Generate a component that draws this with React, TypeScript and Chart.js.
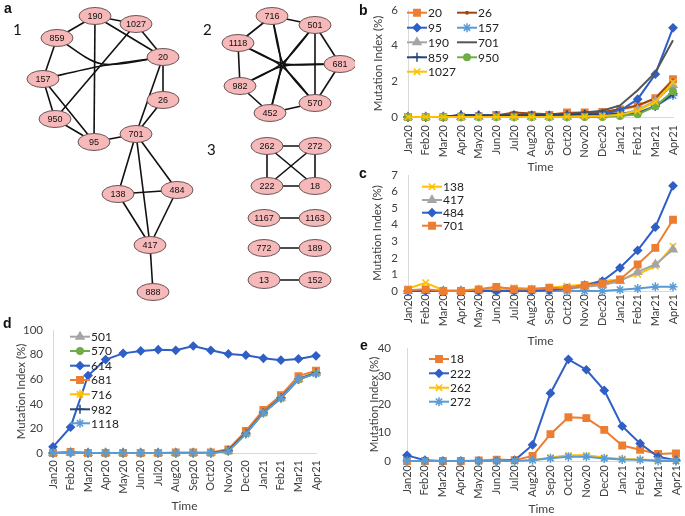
import React, { useEffect, useRef } from 'react';
import { Chart, registerables } from 'chart.js';
import { drawPoint } from 'chart.js/helpers';
Chart.register(...registerables);

const FONT = 'Lato, "Open Sans", sans-serif';
const TXT = '#404040';

const months = ['Jan20', 'Feb20', 'Mar20', 'Apr20', 'May20', 'Jun20', 'Jul20', 'Aug20', 'Sep20', 'Oct20', 'Nov20', 'Dec20', 'Jan21', 'Feb21', 'Mar21', 'Apr21'];

// ---- panel b ----
const bTicks = [0, 2, 4, 6];
const b20 = [0, 0, 0, 0.02, 0.05, 0.12, 0.1, 0.12, 0.12, 0.25, 0.25, 0.28, 0.42, 0.6, 1.05, 2.12];
const b26 = [0, 0, 0, 0.03, 0.05, 0.08, 0.25, 0.2, 0.15, 0.2, 0.25, 0.25, 0.45, 0.65, 1.05, 2.05];
const b95 = [0, 0, 0.02, 0.08, 0.1, 0.08, 0.05, 0.05, 0.05, 0.1, 0.15, 0.2, 0.35, 1.0, 2.4, 5.0];
const b157 = [0, 0, 0, 0, 0, 0, 0, 0, 0, 0, 0.05, 0.05, 0.08, 0.25, 0.6, 1.2];
const b190 = [0, 0, 0, 0, 0, 0, 0, 0, 0, 0.02, 0.05, 0.08, 0.15, 0.4, 0.9, 1.8];
const b701 = [0, 0, 0, 0.05, 0.05, 0.05, 0.1, 0.1, 0.15, 0.15, 0.25, 0.35, 0.65, 1.5, 2.5, 4.3];
const b859 = [0, 0, 0, 0.12, 0.1, 0.08, 0.1, 0.1, 0.1, 0.12, 0.15, 0.12, 0.2, 0.2, 0.6, 1.3];
const b950 = [0, 0, 0, 0, 0, 0, 0, 0, 0, 0, 0, 0, 0.05, 0.15, 0.6, 1.45];
const b1027 = [0, 0, 0, 0, 0, 0, 0, 0, 0, 0.02, 0.03, 0.05, 0.12, 0.35, 0.85, 1.95];

// ---- panel c ----
const cTicks = [0, 1, 2, 3, 4, 5, 6, 7];
const c138 = [0.15, 0.5, 0.05, 0.05, 0.1, 0.15, 0.2, 0.15, 0.2, 0.3, 0.4, 0.6, 0.7, 1.0, 1.5, 2.7];
const c417 = [0, 0, 0, 0, 0.05, 0.05, 0.05, 0.05, 0.1, 0.1, 0.25, 0.35, 0.6, 1.15, 1.6, 2.5];
const c484 = [0, 0, 0, 0, 0, 0, 0, 0, 0.05, 0.15, 0.35, 0.6, 1.4, 2.45, 3.85, 6.35];
const c701 = [0.05, 0.1, 0, 0, 0.1, 0.25, 0.1, 0.1, 0.2, 0.15, 0.35, 0.45, 0.7, 1.6, 2.6, 4.3];
const cOther = [0, 0.02, 0, 0, 0, 0, 0, 0, 0, 0, 0, 0, 0.08, 0.15, 0.25, 0.25];

// ---- panel d ----
const dTicks = [0, 20, 40, 60, 80, 100];
const d501 = [0, 0.5, 0, 0, 0, 0, 0, 0, 0, 0.2, 1.5, 16, 33, 45, 60, 65];
const d570 = [0, 0.5, 0, 0, 0, 0, 0, 0, 0, 0.2, 1.8, 16, 33, 45, 60, 65.5];
const d614 = [5, 21, 63, 76, 81, 83, 84, 83.5, 87, 83.5, 80.5, 79.5, 77, 75.5, 76.5, 79];
const d681 = [0, 0.8, 0, 0, 0, 0, 0, 0.5, 0.5, 0.5, 3, 18, 35, 47, 62.5, 67];
const d716 = [0, 0.3, 0, 0, 0, 0, 0, 0, 0, 0, 1.5, 15.5, 32.5, 44.5, 59.5, 65];
const d982 = [0, 0.3, 0, 0, 0, 0, 0, 0, 0, 0, 2, 16, 33, 45, 60, 65];
const d1118 = [0, 0.3, 0, 0, 0, 0, 0, 0, 0, 0, 1.5, 15.5, 32.5, 44.5, 60, 64.5];

// ---- panel e ----
const eTicks = [0, 10, 20, 30, 40];
const e18 = [0, 0, 0, 0, 0.2, 0.5, 0.3, 1.8, 9.5, 15.5, 15.2, 11, 5.5, 4, 2.5, 2.7];
const e222 = [2, 0.3, 0, 0, 0, 0, 0.3, 5.7, 24, 36, 32.3, 25, 12.3, 6.2, 1.5, 0.3];
const e262 = [0, 0, 0, 0, 0, 0, 0, 0.3, 1.2, 2, 2, 1.2, 0.7, 0.5, 0.3, 0.2];
const e272 = [0, 0, 0, 0, 0, 0, 0, 0.3, 1, 1.5, 1.5, 0.9, 0.5, 0.4, 0, 0];

// ---- network (panel a) ----
const nodeIds = ['190', '1027', '859', '20', '157', '26', '950', '701', '95', '138', '484', '417', '888',
  '716', '501', '1118', '681', '982', '570', '452',
  '262', '272', '222', '18', '1167', '1163', '772', '189', '13', '152'];
const nodeX = [95, 136, 57, 163, 43, 163, 55, 136, 94, 118, 177, 150, 153,
  272, 315, 238, 340, 240, 315, 270,
  267, 315, 267, 315, 264, 315, 264, 315, 264, 315];
const nodeY = [16, 24, 38, 57, 79, 100, 119, 134, 142, 194, 190, 245, 292,
  16, 25, 43, 64, 86, 103, 113,
  146, 146, 186, 186, 218, 218, 248, 248, 280, 280];
const hubX = [0, 100, 282];
const hubY = [0, 66, 65];
// [from, to, hub index (0 = straight)]
const edges: [string, string, number][] = [
  ['190', '1027', 0], ['190', '859', 0], ['190', '20', 0], ['190', '95', 0], ['1027', '20', 0],
  ['1027', '950', 1], ['859', '157', 0], ['859', '20', 1], ['157', '20', 1], ['157', '950', 0],
  ['157', '95', 0], ['950', '95', 0], ['95', '701', 0], ['20', '701', 0], ['20', '26', 0],
  ['26', '701', 0], ['701', '138', 0], ['701', '484', 0], ['701', '417', 0], ['138', '484', 0],
  ['138', '417', 0], ['484', '417', 0], ['417', '888', 0],
  ['716', '501', 0], ['716', '1118', 0], ['1118', '982', 0], ['982', '452', 0], ['452', '570', 0],
  ['570', '681', 0], ['501', '681', 0], ['1118', '681', 2], ['1118', '570', 2], ['982', '501', 2],
  ['982', '681', 2], ['716', '570', 2], ['716', '452', 2], ['501', '452', 2], ['501', '570', 0],
  ['262', '272', 0], ['262', '222', 0], ['262', '18', 0], ['272', '222', 0], ['272', '18', 0],
  ['222', '18', 0], ['1167', '1163', 0], ['772', '189', 0], ['13', '152', 0],
];

// colours
const ORANGE = '#ED7D31', BROWN = '#9E480E', BLUE = '#2F5FC6', LBLUE = '#5B9BD5', GRAY = '#A5A5A5',
  DGRAY = '#555555', NAVY = '#264478', GREEN = '#70AD47', YELLOW = '#FFC000';

function series(label: string, data: number[], color: string, style: string, radius: number, idx: number) {
  return {
    label, data,
    borderColor: color, backgroundColor: color,
    borderWidth: 2,
    pointStyle: style, pointRadius: radius, pointHoverRadius: radius,
    pointBackgroundColor: color, pointBorderColor: color, pointBorderWidth: 1.5,
    tension: 0, clip: false as any, order: -idx,
  };
}

const legendPlugin = {
  id: 'xlLegend',
  afterDraw(chart: any, _a: any, opts: any) {
    const items = opts.items || [];
    const ctx = chart.ctx;
    ctx.save();
    items.forEach((it: any) => {
      const ds = chart.data.datasets[it.ds];
      const x = it.x - opts.L, y = it.y - opts.T;
      ctx.strokeStyle = ds.borderColor; ctx.lineWidth = 2;
      ctx.beginPath(); ctx.moveTo(x, y); ctx.lineTo(x + 20, y); ctx.stroke();
      if (ds.pointRadius > 0) {
        ctx.fillStyle = ds.pointBackgroundColor; ctx.strokeStyle = ds.pointBorderColor; ctx.lineWidth = ds.pointBorderWidth;
        drawPoint(ctx, { pointStyle: ds.pointStyle, radius: ds.pointRadius, borderWidth: ds.pointBorderWidth, rotation: 0 } as any, x + 10, y);
      }
      ctx.fillStyle = '#222'; ctx.font = `12px ${FONT}`; ctx.textBaseline = 'middle'; ctx.textAlign = 'left';
      ctx.fillText(ds.label, x + 21, y + 0.5);
    });
    ctx.restore();
  },
};

type Geom = { L: number; T: number; W: number; H: number; cl: number; cr: number; ct: number; cb: number; yTitleX: number; xTitleY: number; yPad: number; xPad: number };

function lineConfig(g: Geom, datasets: any[], yTicks: number[], legendItems: any[]) {
  const lh = 11.5 * 1.2;
  return {
    type: 'line',
    data: { labels: months, datasets },
    plugins: [legendPlugin],
    options: {
      responsive: false, animation: false,
      layout: { padding: { top: g.ct - g.T, right: g.L + g.W - g.cr, left: 0, bottom: 0 }, autoPadding: false },
      plugins: { legend: { display: false }, tooltip: { enabled: false }, xlLegend: { items: legendItems, L: g.L, T: g.T } },
      scales: {
        x: {
          type: 'category', offset: false,
          grid: { display: false, drawTicks: false },
          border: { display: true, color: '#D9D9D9', width: 1 },
          ticks: { autoSkip: false, minRotation: 90, maxRotation: 90, padding: g.xPad, font: { family: FONT, size: 11 }, color: TXT },
          title: { display: true, text: 'Time', color: TXT, font: { family: FONT, size: 12 }, padding: { top: 0, bottom: Math.max(0, g.T + g.H - g.xTitleY - 7.2) } },
          afterFit: (s: any) => { s.height = g.T + g.H - g.cb; s.paddingLeft = 0; s.paddingRight = 0; },
        },
        y: {
          min: yTicks[0], max: yTicks[yTicks.length - 1],
          grid: { display: false, drawTicks: false },
          border: { display: true, color: '#D9D9D9', width: 1 },
          ticks: { autoSkip: false, padding: g.yPad, font: { family: FONT, size: 11.5 }, color: TXT },
          afterBuildTicks: (s: any) => { s.ticks = yTicks.map((v) => ({ value: v })); },
          title: { display: true, text: 'Mutation Index (%)', color: TXT, font: { family: FONT, size: 11.5 }, padding: { top: Math.max(0, g.yTitleX - g.L - lh / 2), bottom: 0 } },
          afterFit: (s: any) => { s.width = g.cl - g.L; s.paddingTop = 0; s.paddingBottom = 0; },
        },
      },
    },
  };
}

const nodePlugin = {
  id: 'nodes',
  afterDatasetsDraw(chart: any) {
    const xs = chart.scales.x, ys = chart.scales.y;
    const ctx = chart.ctx;
    ctx.save();
    nodeIds.forEach((id, i) => {
      const px = xs.getPixelForValue(nodeX[i]);
      const py = ys.getPixelForValue(nodeY[i]);
      ctx.beginPath();
      ctx.ellipse(px, py, 16, 8.5, 0, 0, Math.PI * 2);
      ctx.fillStyle = '#F6B8B8'; ctx.fill();
      ctx.strokeStyle = '#6A5555'; ctx.lineWidth = 1; ctx.stroke();
      ctx.fillStyle = '#111'; ctx.font = '9px "Liberation Sans", Arial, sans-serif';
      ctx.textAlign = 'center'; ctx.textBaseline = 'middle';
      ctx.fillText(id, px, py + 0.5);
    });
    ctx.restore();
  },
};

function networkConfig(W: number, H: number) {
  const pos = (id: string) => { const i = nodeIds.indexOf(id); return { x: nodeX[i], y: nodeY[i] }; };
  const edgeSets = edges.map(([a, b, h]) => {
    const p = pos(a), q = pos(b);
    const pts = [p];
    if (h > 0) {
      pts.push({ x: 0.12 * (p.x + q.x) / 2 + 0.88 * hubX[h], y: 0.12 * (p.y + q.y) / 2 + 0.88 * hubY[h] });
    }
    pts.push(q);
    return { data: pts, showLine: true, borderColor: '#111', borderWidth: 1.6, pointRadius: 0, tension: 0.3, clip: false as any };
  });
  const nodeSet = { data: nodeIds.map((_, i) => ({ x: nodeX[i], y: nodeY[i] })), pointRadius: 0, showLine: false };
  return {
    type: 'scatter',
    data: { datasets: [...edgeSets, nodeSet] },
    plugins: [nodePlugin],
    options: {
      responsive: false, animation: false,
      layout: { padding: 0, autoPadding: false },
      plugins: { legend: { display: false }, tooltip: { enabled: false } },
      scales: {
        x: { type: 'linear', min: 0, max: W, display: false },
        y: { type: 'linear', min: 0, max: H, reverse: true, display: false },
      },
    },
  };
}

function ChartCanvas({ L, T, W, H, make }: { L: number; T: number; W: number; H: number; make: () => any }) {
  const ref = useRef<HTMLCanvasElement>(null);
  useEffect(() => {
    const chart = new Chart(ref.current as HTMLCanvasElement, make());
    return () => chart.destroy();
  }, []);
  return <canvas ref={ref} width={W} height={H} style={{ position: 'absolute', left: L, top: T, width: W, height: H, display: 'block' }} />;
}

const gB: Geom = { L: 360, T: 0, W: 325, H: 175, cl: 408, cr: 673, ct: 10, cb: 117, yTitleX: 378, xTitleY: 167, yPad: 10, xPad: 8 };
const gC: Geom = { L: 360, T: 165, W: 325, H: 183, cl: 408, cr: 673, ct: 175, cb: 291, yTitleX: 377, xTitleY: 341, yPad: 10, xPad: 3 };
const gD: Geom = { L: 0, T: 320, W: 340, H: 196, cl: 53, cr: 316, ct: 330, cb: 453, yTitleX: 21, xTitleY: 506, yPad: 10, xPad: 7 };
const gE: Geom = { L: 340, T: 338, W: 345, H: 178, cl: 407, cr: 676, ct: 348, cb: 461, yTitleX: 374, xTitleY: 510, yPad: 16, xPad: 4 };

const makeB = () => lineConfig(gB, [
  series('20', b20, ORANGE, 'rect', 4.5, 0),
  series('26', b26, BROWN, 'circle', 1.2, 1),
  series('95', b95, BLUE, 'rectRot', 3.8, 2),
  series('157', b157, LBLUE, 'star', 4.5, 3),
  series('190', b190, GRAY, 'triangle', 4.5, 4),
  series('701', b701, DGRAY, 'circle', 0, 5),
  series('859', b859, NAVY, 'cross', 4.5, 6),
  series('950', b950, GREEN, 'circle', 3.2, 7),
  series('1027', b1027, YELLOW, 'crossRot', 4.5, 8),
], bTicks, [
  { ds: 0, x: 407, y: 12.7 }, { ds: 1, x: 457, y: 12.7 },
  { ds: 2, x: 407, y: 27.7 }, { ds: 3, x: 457, y: 27.7 },
  { ds: 4, x: 407, y: 42.3 }, { ds: 5, x: 457, y: 42.3 },
  { ds: 6, x: 407, y: 57.3 }, { ds: 7, x: 457, y: 57.3 },
  { ds: 8, x: 407, y: 71.7 },
]);

const makeC = () => lineConfig(gC, [
  series('138', c138, YELLOW, 'crossRot', 4.5, 0),
  series('417', c417, GRAY, 'triangle', 4.5, 1),
  series('484', c484, BLUE, 'rectRot', 3.8, 2),
  series('701', c701, ORANGE, 'rect', 4.5, 3),
  series('', cOther, LBLUE, 'star', 4.5, -1),
], cTicks, [
  { ds: 0, x: 422, y: 186.7 }, { ds: 1, x: 422, y: 200 }, { ds: 2, x: 422, y: 212.7 }, { ds: 3, x: 422, y: 225.7 },
]);

const makeD = () => lineConfig(gD, [
  series('501', d501, GRAY, 'triangle', 4.5, 0),
  series('570', d570, GREEN, 'circle', 3.2, 1),
  series('614', d614, BLUE, 'rectRot', 3.8, 2),
  series('681', d681, ORANGE, 'rect', 4.5, 3),
  series('716', d716, YELLOW, 'star', 4.5, 4),
  series('982', d982, NAVY, 'cross', 4.5, 5),
  series('1118', d1118, LBLUE, 'star', 4.5, 6),
], dTicks, [
  { ds: 0, x: 70, y: 336.7 }, { ds: 1, x: 70, y: 351 }, { ds: 2, x: 70, y: 365.7 }, { ds: 3, x: 70, y: 380 },
  { ds: 4, x: 70, y: 394.3 }, { ds: 5, x: 70, y: 409.3 }, { ds: 6, x: 70, y: 423.3 },
]);

const makeE = () => lineConfig(gE, [
  series('18', e18, ORANGE, 'rect', 4.5, 0),
  series('222', e222, BLUE, 'rectRot', 3.8, 1),
  series('262', e262, YELLOW, 'crossRot', 4.5, 2),
  series('272', e272, LBLUE, 'star', 4.5, 3),
], eTicks, [
  { ds: 0, x: 429, y: 359 }, { ds: 1, x: 429, y: 373.3 }, { ds: 2, x: 429, y: 387.7 }, { ds: 3, x: 429, y: 401.7 },
]);

const NET_W = 355, NET_H = 305;
const makeNet = () => networkConfig(NET_W, NET_H);

const letter = (t: string, left: number, top: number) => (
  <div style={{ position: 'absolute', left, top, font: 'bold 14px "Liberation Sans", Arial, sans-serif', lineHeight: '14px', color: '#111' }}>{t}</div>
);
const num = (t: string, left: number, top: number) => (
  <div style={{ position: 'absolute', left, top, font: '15px Lato, sans-serif', lineHeight: '15px', color: '#111' }}>{t}</div>
);

export default function App() {
  return (
    <div style={{ position: 'absolute', left: 0, top: 0, width: 685, height: 516, background: '#fff', overflow: 'hidden' }}>
      <ChartCanvas L={0} T={0} W={NET_W} H={NET_H} make={makeNet} />
      <ChartCanvas L={gB.L} T={gB.T} W={gB.W} H={gB.H} make={makeB} />
      <ChartCanvas L={gC.L} T={gC.T} W={gC.W} H={gC.H} make={makeC} />
      <ChartCanvas L={gD.L} T={gD.T} W={gD.W} H={gD.H} make={makeD} />
      <ChartCanvas L={gE.L} T={gE.T} W={gE.W} H={gE.H} make={makeE} />
      {letter('a', 4, 1)}
      {letter('b', 359, 3)}
      {letter('c', 359, 166)}
      {letter('d', 3, 316)}
      {letter('e', 360, 338)}
      {num('1', 13, 22)}
      {num('2', 203, 22)}
      {num('3', 207, 142)}
    </div>
  );
}
